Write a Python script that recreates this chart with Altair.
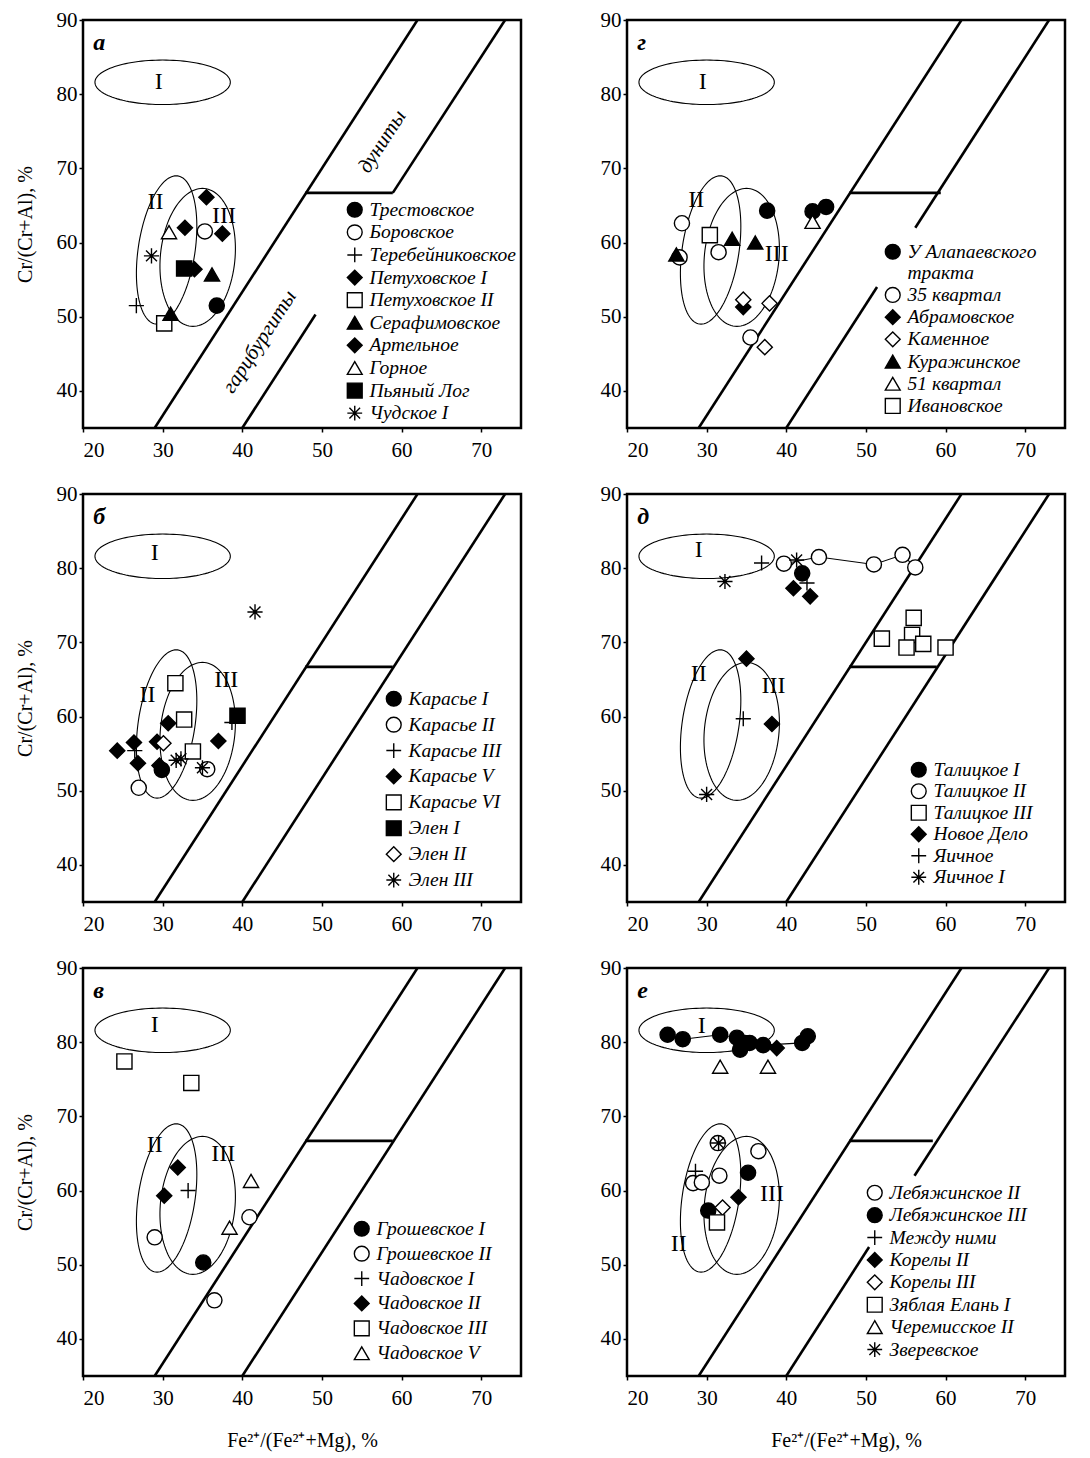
import altair as alt
import pandas as pd
import numpy as np

# ---------------- symbols ----------------
PLUS = "M-1,0L1,0M0,-1L0,1"
STAR = "M-1,0L1,0M0,-1L0,1M-0.72,-0.72L0.72,0.72M-0.72,0.72L0.72,-0.72"
SHAPES = {"fc": "circle", "oc": "circle", "fd": "diamond", "od": "diamond",
          "fs": "square", "os": "square", "ft": "triangle-up", "ot": "triangle-up",
          "plus": PLUS, "star": STAR}
FILLS = {"fc": "black", "oc": "white", "fd": "black", "od": "white",
         "fs": "black", "os": "white", "ft": "black", "ot": "white",
         "plus": "black", "star": "black"}

XTICKS = [20, 30, 40, 50, 60, 70]
YTICKS = [40, 50, 60, 70, 80, 90]
XTITLE = "Fe²⁺/(Fe²⁺+Mg), %"
YTITLE = "Cr/(Cr+Al), %"

# ---------------- field ellipses I, II, III ----------------
ELL_NAMES = ["I", "II", "III"]
ELL_CX = [30.0, 30.5, 34.4]
ELL_CY = [81.6, 59.0, 58.0]
ELL_RX = [8.5, 3.6, 4.7]
ELL_RY = [3.0, 10.0, 9.3]
ELL_SHEAR = [0.0, 1.2, 0.6]

# ---------------- panel а ----------------
A_NAMES = ["Трестовское", "Боровское", "Теребейниковское", "Петуховское I", "Петуховское II",
           "Серафимовское", "Артельное", "Горное", "Пьяный Лог", "Чудское I"]
A_STYLE = ["fc", "oc", "plus", "fd", "os", "ft", "fd", "ot", "fs", "star"]
A_SER = ["Трестовское", "Боровское", "Теребейниковское", "Петуховское I", "Петуховское I",
         "Петуховское II", "Серафимовское", "Серафимовское", "Артельное", "Артельное",
         "Горное", "Пьяный Лог", "Чудское I"]
A_X = [36.8, 35.3, 26.7, 32.8, 37.5, 30.2, 36.2, 31.0, 35.5, 34.0, 30.8, 32.7, 28.6]
A_Y = [51.5, 61.5, 51.5, 62.0, 61.2, 49.1, 55.7, 50.4, 66.1, 56.4, 61.4, 56.5, 58.2]

# ---------------- panel г ----------------
G_NAMES = ["У Алапаевского|тракта", "35 квартал", "Абрамовское", "Каменное",
           "Куражинское", "51 квартал", "Ивановское"]
G_STYLE = ["fc", "oc", "fd", "od", "ft", "ot", "os"]
G_SER = ["У Алапаевского|тракта"] * 3 + ["35 квартал"] * 4 + ["Абрамовское"] + \
        ["Каменное"] * 3 + ["Куражинское"] * 3 + ["51 квартал", "Ивановское"]
G_X = [37.6, 45.0, 43.3, 26.9, 26.6, 31.5, 35.5, 34.6, 34.6, 37.9, 37.3,
       33.2, 36.1, 26.2, 43.3, 30.4]
G_Y = [64.3, 64.8, 64.2, 62.6, 58.0, 58.7, 47.2, 51.3, 52.3, 51.8, 45.9,
       60.5, 60.0, 58.4, 62.8, 61.0]

# ---------------- panel б ----------------
B_NAMES = ["Карасье I", "Карасье II", "Карасье III", "Карасье V", "Карасье VI",
           "Элен I", "Элен II", "Элен III"]
B_STYLE = ["fc", "oc", "plus", "fd", "os", "fs", "od", "star"]
B_SER = ["Карасье I", "Карасье II", "Карасье II", "Карасье III", "Карасье III"] + \
        ["Карасье V"] * 7 + ["Карасье VI"] * 3 + ["Элен I", "Элен II"] + ["Элен III"] * 4
B_X = [29.9, 27.0, 35.6, 26.5, 38.7,
       24.3, 26.4, 26.9, 29.3, 29.6, 30.7, 37.0,
       31.6, 32.7, 33.8, 39.4, 30.1,
       32.3, 35.0, 31.7, 41.6]
B_Y = [52.8, 50.4, 52.9, 55.4, 59.2,
       55.4, 56.5, 53.7, 56.6, 53.4, 59.1, 56.7,
       64.5, 59.6, 55.3, 60.1, 56.4,
       54.3, 53.1, 54.1, 74.1]

# ---------------- panel д ----------------
D_NAMES = ["Талицкое I", "Талицкое II", "Талицкое III", "Новое Дело", "Яичное", "Яичное I"]
D_STYLE = ["fc", "oc", "os", "fd", "plus", "star"]
D_SER = ["Талицкое I"] + ["Талицкое II"] * 5 + ["Талицкое III"] * 6 + \
        ["Новое Дело"] * 4 + ["Яичное"] * 3 + ["Яичное I"] * 3
D_X = [42.0,
       39.7, 44.1, 51.0, 54.6, 56.2,
       52.0, 56.0, 55.8, 55.1, 57.2, 60.0,
       40.9, 43.0, 35.0, 38.2,
       36.9, 42.6, 34.6,
       32.3, 30.0, 41.3]
D_Y = [79.3,
       80.6, 81.5, 80.5, 81.8, 80.1,
       70.5, 73.3, 71.0, 69.3, 69.8, 69.3,
       77.3, 76.2, 67.8, 59.0,
       80.7, 78.0, 59.7,
       78.2, 49.5, 81.1]
D_CHAIN = [1, 2, 3, 4, 5]  # indices of connected Талицкое II points

# ---------------- panel в ----------------
V_NAMES = ["Грошевское I", "Грошевское II", "Чадовское I", "Чадовское II",
           "Чадовское III", "Чадовское V"]
V_STYLE = ["fc", "oc", "plus", "fd", "os", "ot"]
V_SER = ["Грошевское I"] + ["Грошевское II"] * 3 + ["Чадовское I"] + \
        ["Чадовское II"] * 2 + ["Чадовское III"] * 2 + ["Чадовское V"] * 2
V_X = [35.1, 29.0, 40.9, 36.5, 33.2, 30.2, 31.9, 25.2, 33.6, 41.1, 38.4]
V_Y = [50.3, 53.7, 56.4, 45.2, 60.0, 59.3, 63.1, 77.4, 74.5, 61.3, 55.0]

# ---------------- panel е ----------------
E_NAMES = ["Лебяжинское II", "Лебяжинское III", "Между ними", "Корелы II",
           "Корелы III", "Зяблая Елань I", "Черемисское II", "Зверевское"]
E_STYLE = ["oc", "fc", "plus", "fd", "od", "os", "ot", "star"]
E_SER = ["Лебяжинское III"] * 10 + ["Лебяжинское III"] * 2 + \
        ["Лебяжинское II"] * 5 + ["Между ними", "Корелы II", "Корелы II",
                                  "Корелы III", "Зяблая Елань I",
                                  "Черемисское II", "Черемисское II", "Зверевское"]
E_X = [25.1, 27.0, 31.7, 33.8, 34.2, 34.8, 35.4, 37.1, 42.0, 42.7,
       35.2, 30.2,
       36.5, 31.6, 28.3, 29.4, 31.4,
       28.6, 38.8, 34.0, 32.0, 31.3, 31.7, 37.7, 31.5]
E_Y = [81.0, 80.4, 81.0, 80.6, 79.0, 79.9, 79.9, 79.6, 79.9, 80.8,
       62.4, 57.3,
       65.3, 62.0, 61.0, 61.1, 66.4,
       62.6, 79.2, 59.1, 57.7, 55.7, 76.7, 76.7, 66.4]
E_CHAIN = [0, 1, 2, 3, 5, 6, 7, 8, 9]

# ---------------- annotation texts ----------------
LETTERS = {"a": "а", "g": "г", "b": "б", "d": "д", "v": "в", "e": "е"}
ROMAN_XY = {
    "a": [(29.5, 81.7), (29.1, 65.4), (37.7, 63.6)],
    "g": [(29.5, 81.7), (28.7, 65.8), (38.8, 58.4)],
    "b": [(29.0, 82.0), (28.1, 62.9), (38.0, 64.9)],
    "d": [(29.0, 82.4), (29.0, 65.7), (38.4, 64.1)],
    "v": [(29.0, 82.3), (29.0, 66.2), (37.6, 64.9)],
    "e": [(29.4, 82.2), (26.5, 52.8), (38.2, 59.5)],
}
ROCK_TEXT = ["дуниты", "гарцбургиты"]
ROCK_X = [57.6, 42.2]
ROCK_Y = [73.6, 46.6]

# boundary lines of the dunite / harzburgite fields
L1 = (29.0, 35.0, 62.0, 90.0)
HOR = (47.9, 66.7, 58.9, 66.7)
SEGMENTS = {
    "a": [L1, HOR, (40.0, 35.0, 49.2, 50.3), (58.9, 66.7, 73.0, 90.0)],
    "g": [L1, (47.9, 66.7, 59.4, 66.7), (40.0, 35.0, 51.4, 54.0), (56.2, 62.0, 73.0, 90.0)],
    "b": [L1, HOR, (40.0, 35.0, 73.0, 90.0)],
    "d": [L1, HOR, (40.0, 35.0, 73.0, 90.0)],
    "v": [L1, HOR, (40.0, 35.0, 73.0, 90.0)],
    "e": [L1, (47.9, 66.7, 58.4, 66.7), (40.0, 35.0, 50.4, 52.4), (56.1, 62.0, 73.0, 90.0)],
}

LEGEND_POS = {  # legendX, legendY, rowPadding, fontSize
    "a": (262, 180, 1.6, 19.5),
    "g": (256, 222, 1.2, 19.5),
    "b": (301, 195, 4.9, 19.5),
    "d": (282, 266, 0.5, 19.5),
    "v": (269, 251, 3.9, 19.5),
    "e": (238, 215, 1.4, 19.5),
}

PW, PH = 438, 408
SERIF = "Liberation Serif"


def ellipse_df():
    t = np.linspace(0, 2 * np.pi, 121)
    rows = []
    for n, cx, cy, rx, ry, sh in zip(ELL_NAMES, ELL_CX, ELL_CY, ELL_RX, ELL_RY, ELL_SHEAR):
        for i, tt in enumerate(t):
            rows.append({"e": n, "i": i,
                         "x": cx + rx * np.cos(tt) + sh * np.sin(tt),
                         "y": cy + ry * np.sin(tt)})
    return pd.DataFrame(rows)


def panel(key, names, styles, ser, xs, ys, row, col, chain=None):
    xaxis = alt.Axis(values=XTICKS, title=XTITLE if row == 2 else None,
                     titlePadding=22, labelPadding=7)
    yaxis = alt.Axis(values=YTICKS, title=YTITLE if col == 0 else None,
                     titlePadding=21, labelPadding=2)
    X = alt.X("x:Q", scale=alt.Scale(domain=[20, 75], nice=False, zero=False), axis=xaxis)
    Y = alt.Y("y:Q", scale=alt.Scale(domain=[35, 90], nice=False, zero=False), axis=yaxis)

    ell = alt.Chart(ellipse_df()).mark_line(
        color="black", strokeWidth=1.1, clip=True
    ).encode(x=X, y=Y, detail="e:N", order="i:Q")

    seg_df = pd.DataFrame(SEGMENTS[key], columns=["x", "y", "x2", "y2"])
    segs = alt.Chart(seg_df).mark_rule(color="black", strokeWidth=2.6, clip=True).encode(
        x=X, y=Y, x2="x2:Q", y2="y2:Q")

    pts_df = pd.DataFrame({"x": xs, "y": ys, "s": ser})
    lx, ly, rp, fs = LEGEND_POS[key]
    leg_kwargs = dict(orient="none", legendX=lx, legendY=ly, title=None,
                      labelFont=SERIF, labelFontStyle="italic", labelFontSize=fs,
                      labelColor="black", symbolSize=220,
                      symbolStrokeWidth=1.4, rowPadding=rp, labelOffset=5, padding=0,
                      labelLimit=400, symbolOpacity=1)
    if key == "g":
        leg_kwargs["labelExpr"] = "split(datum.label, '|')"
    leg = alt.Legend(**leg_kwargs)
    shape_range = [SHAPES[s] for s in styles]
    fill_range = [FILLS[s] for s in styles]
    stroke_range = ["black"] * len(styles)
    pts = alt.Chart(pts_df).mark_point(
        filled=True, size=230, strokeWidth=1.4, opacity=1
    ).encode(
        x=X, y=Y,
        shape=alt.Shape("s:N", scale=alt.Scale(domain=names, range=shape_range), legend=leg),
        fill=alt.Fill("s:N", scale=alt.Scale(domain=names, range=fill_range), legend=leg),
        stroke=alt.Stroke("s:N", scale=alt.Scale(domain=names, range=stroke_range), legend=leg),
    )

    layers = [ell, segs]
    if chain is not None:
        ch_df = pd.DataFrame({"x": [xs[i] for i in chain], "y": [ys[i] for i in chain],
                              "o": list(range(len(chain)))})
        layers.append(alt.Chart(ch_df).mark_line(color="black", strokeWidth=1.1).encode(
            x=X, y=Y, order="o:Q"))
    layers.append(pts)

    rom_df = pd.DataFrame({"x": [p[0] for p in ROMAN_XY[key]],
                           "y": [p[1] for p in ROMAN_XY[key]], "t": ELL_NAMES})
    layers.append(alt.Chart(rom_df).mark_text(font=SERIF, fontSize=24, color="black").encode(
        x=X, y=Y, text="t:N"))
    let_df = pd.DataFrame({"x": [21.3], "y": [86.9], "t": [LETTERS[key]]})
    layers.append(alt.Chart(let_df).mark_text(
        font=SERIF, fontSize=24, fontStyle="italic", fontWeight="bold",
        align="left", color="black").encode(x=X, y=Y, text="t:N"))
    if key == "a":
        rock_df = pd.DataFrame({"x": ROCK_X, "y": ROCK_Y, "t": ROCK_TEXT})
        layers.append(alt.Chart(rock_df).mark_text(
            font=SERIF, fontSize=21, fontStyle="italic", angle=303, color="black").encode(
            x=X, y=Y, text="t:N"))
    return alt.layer(*layers).properties(width=PW, height=PH)


pa = panel("a", A_NAMES, A_STYLE, A_SER, A_X, A_Y, 0, 0)
pg = panel("g", G_NAMES, G_STYLE, G_SER, G_X, G_Y, 0, 1)
pb = panel("b", B_NAMES, B_STYLE, B_SER, B_X, B_Y, 1, 0)
pd_ = panel("d", D_NAMES, D_STYLE, D_SER, D_X, D_Y, 1, 1, chain=D_CHAIN)
pv = panel("v", V_NAMES, V_STYLE, V_SER, V_X, V_Y, 2, 0)
pe = panel("e", E_NAMES, E_STYLE, E_SER, E_X, E_Y, 2, 1, chain=E_CHAIN)


def row(l, r):
    return alt.hconcat(l, r, spacing=75).resolve_scale(
        shape="independent", fill="independent", stroke="independent")


chart = alt.vconcat(row(pa, pg), row(pb, pd_), row(pv, pe), spacing=19).resolve_scale(
    shape="independent", fill="independent", stroke="independent"
).properties(
    padding={"left": 13, "top": 7, "right": 5, "bottom": 3},
    background="white",
).configure_view(
    stroke="black", strokeWidth=2.5
).configure_axis(
    labelFont=SERIF, labelFontSize=21, labelColor="black",
    titleFont=SERIF, titleFontSize=20, titleFontWeight="normal", titleColor="black",
    grid=False, domain=False, tickColor="black", tickSize=4, tickWidth=1.5,
)

chart.save("out.html", embed_options={"renderer": "svg", "actions": False})
